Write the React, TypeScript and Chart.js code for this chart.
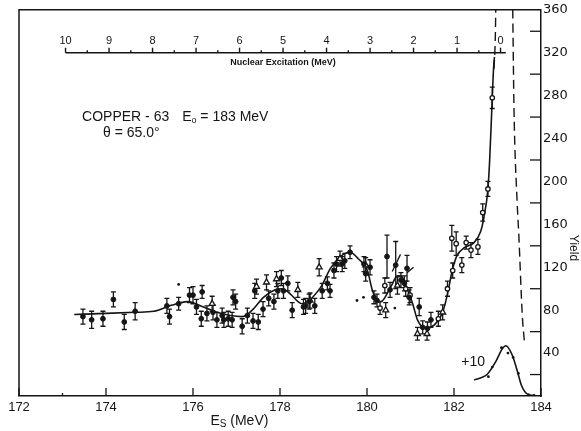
import React, { useEffect, useRef } from "react";
import { Chart, registerables } from "chart.js";

Chart.register(...registerables);

// ---------- axis labels ----------
const xTickLabels = [172, 174, 176, 178, 180, 182, 184];
const yTickLabels = [40, 80, 120, 160, 200, 240, 280, 320, 360];
const excitationLabels = [10, 9, 8, 7, 6, 5, 4, 3, 2, 1, 0];
const EXCITATION_ZERO = 183.07; // E_s at zero nuclear excitation
const EXCITATION_AXIS_Y = 320; // yield level where the excitation scale sits

// ---------- data: filled circles ----------
const filledE = [173.47, 173.67, 173.93, 174.17, 174.42, 174.67, 175.4, 175.46, 175.67, 175.92, 176.0, 176.08, 176.19, 176.21, 176.32, 176.46, 176.55, 176.67, 176.71, 176.81, 176.9, 176.92, 176.98, 177.13, 177.25, 177.38, 177.42, 177.5, 177.61, 177.74, 177.86, 177.95, 178.03, 178.08, 178.18, 178.28, 178.54, 178.59, 178.67, 178.8, 178.97, 179.09, 179.15, 179.24, 179.3, 179.43, 179.49, 179.61, 179.93, 179.97, 180.07, 180.16, 180.23, 180.46, 180.53, 180.66, 180.78, 180.86, 180.92, 180.97, 181.2, 181.28, 181.39, 181.47];
const filledY = [74, 71, 72, 90, 69, 79, 84, 74, 86, 94, 94, 83, 72, 97, 77, 78, 71, 75, 71, 72, 71, 92, 88, 65, 75, 70, 98, 69, 81, 91, 88, 98, 110, 98, 105, 80, 83, 84, 88, 84, 98, 105, 98, 117, 123, 123, 126, 134, 123, 114, 120, 92, 89, 130, 99, 122, 108, 105, 119, 92, 83, 64, 63, 71];
const filledErr = [7, 8, 7, 7, 7, 8, 7, 7, 6, 7, 8, 7, 7, 6, 7, 7, 7, 7, 7, 7, 7, 7, 7, 7, 7, 7, 7, 7, 7, 7, 7, 7, 7, 7, 7, 7, 7, 7, 7, 7, 7, 6, 6, 7, 7, 7, 7, 6, 7, 7, 7, 6, 6, 20, 7, 22, 7, 7, 12, 7, 8, 6, 6, 7];

// ---------- data: open triangles ----------
const triE = [176.44, 177.46, 177.69, 177.92, 178.41, 178.69, 178.9, 179.38, 179.97, 180.43, 180.7, 181.16, 181.38, 181.74];
const triY = [86, 102, 106, 109, 99, 89, 120, 128, 122, 80, 103, 58, 58, 78];
const triErr = [7, 7, 7, 7, 7, 7, 8, 7, 7, 7, 8, 6, 6, 7];

// ---------- data: open circles ----------
const openE = [180.3, 180.41, 180.89, 180.99, 181.64, 181.85, 181.95, 181.97, 182.05, 182.18, 182.28, 182.39, 182.55, 182.66, 182.78, 182.88];
const openY = [82, 103, 100, 94, 72, 100, 147, 117, 142, 122, 143, 136, 139, 171, 193, 278];
const openErr = [6, 7, 7, 7, 7, 7, 12, 7, 11, 7, 6, 7, 7, 8, 7, 10];

// ---------- data: isolated dots without error bars ----------
const strayE = [175.67, 179.77, 179.92, 180.64];
const strayY = [104, 89, 92, 82];

// ---------- fitted curve ----------
const curveE = [173.27, 174.0, 174.67, 175.1, 175.5, 175.87, 176.24, 176.55, 176.86, 177.13, 177.36, 177.62, 177.89, 178.05, 178.24, 178.5, 178.93, 179.16, 179.39, 179.61, 179.8, 180.01, 180.12, 180.23, 180.32, 180.55, 180.7, 180.78, 180.93, 181.05, 181.16, 181.35, 181.54, 181.73, 181.85, 181.96, 182.07, 182.23, 182.46, 182.61, 182.69, 182.78, 182.82, 182.88, 182.91, 182.93];
const curveY = [76, 77, 78, 79, 84.5, 88, 83, 78, 75, 74, 80, 92, 99, 100, 95, 86, 101, 119, 130, 134, 128, 117, 99, 89, 88, 102, 112, 112, 99, 86, 71, 63, 66, 77, 95, 117, 131, 138, 143, 153, 167, 193, 220, 278, 306, 316];

// alternate fit fragments near 180.7 - 181
const altAE = [180.58, 180.77];
const altAY = [116, 132];
const altBE = [180.92, 181.07];
const altBY = [115, 120];

// ---------- elastic peak (dashed) ----------
const dashLeftE = [182.92, 182.95, 182.96];
const dashLeftY = [305, 335, 360];
const dashRightE = [183.35, 183.38, 183.45, 183.49, 183.57, 183.62];
const dashRightY = [360, 266, 182, 150, 75, 50];

// ---------- elastic peak divided by 10 ----------
const insetE = [182.46, 182.62, 182.76, 182.96, 183.11, 183.19, 183.34, 183.45, 183.55, 183.68, 183.88];
const insetY = [15, 17, 20, 32, 44, 46.8, 38, 24, 10, 2, 0.3];
const insetDotE = [182.79, 182.88, 183.09, 183.24, 183.36, 183.48, 183.72, 183.84];
const insetDotY = [18, 27, 45, 40, 36, 21, 1, 0.5];

const INK = "#151515";
const FONT = "'Liberation Sans', Arial, sans-serif";
const FONT_WIDE = "'DejaVu Sans', sans-serif";

const pts = (xs: number[], ys: number[]) => xs.map((x, i) => ({ x, y: ys[i] }));

const errorBarPlugin = {
  id: "errorBars",
  beforeDatasetsDraw(chart: any) {
    const { ctx, scales } = chart;
    const xs = scales.x;
    const ys = scales.y;
    ctx.save();
    ctx.strokeStyle = INK;
    ctx.lineWidth = 1.3;
    chart.data.datasets.forEach((ds: any) => {
      if (!ds.errs) return;
      ds.data.forEach((p: any, i: number) => {
        const e = ds.errs[i];
        const px = xs.getPixelForValue(p.x);
        const top = ys.getPixelForValue(p.y + e);
        const bot = ys.getPixelForValue(p.y - e);
        ctx.beginPath();
        ctx.moveTo(px, top);
        ctx.lineTo(px, bot);
        ctx.moveTo(px - 2.5, top);
        ctx.lineTo(px + 2.5, top);
        ctx.moveTo(px - 2.5, bot);
        ctx.lineTo(px + 2.5, bot);
        ctx.stroke();
      });
    });
    ctx.restore();
  },
};

type Run = { t: string; size: number; dy?: number; bold?: boolean };
function drawRuns(ctx: CanvasRenderingContext2D, x: number, y: number, runs: Run[]) {
  let cx = x;
  runs.forEach((r) => {
    ctx.font = `${r.bold ? "bold " : ""}${r.size}px ${FONT}`;
    ctx.fillText(r.t, cx, y + (r.dy || 0));
    cx += ctx.measureText(r.t).width;
  });
}

const decorPlugin = {
  id: "decor",
  afterDraw(chart: any) {
    const { ctx, chartArea: a, scales } = chart;
    const xs = scales.x;
    const ys = scales.y;
    ctx.save();
    ctx.strokeStyle = INK;
    ctx.fillStyle = INK;
    ctx.lineWidth = 1.5;
    // frame: top and left
    ctx.beginPath();
    ctx.moveTo(a.left, a.bottom);
    ctx.lineTo(a.left, a.top);
    ctx.lineTo(a.right, a.top);
    ctx.stroke();
    // inside ticks on x axis
    ctx.lineWidth = 1.3;
    xTickLabels.forEach((v) => {
      const px = xs.getPixelForValue(v);
      ctx.beginPath();
      ctx.moveTo(px, a.bottom);
      ctx.lineTo(px, a.bottom - 8);
      ctx.stroke();
    });
    {
      const px = xs.getPixelForValue(173);
      ctx.beginPath();
      ctx.moveTo(px, a.bottom);
      ctx.lineTo(px, a.bottom - 3);
      ctx.stroke();
    }
    // inside ticks on y axis between labels
    yTickLabels.forEach((v) => {
      const py = ys.getPixelForValue(v - 20);
      ctx.beginPath();
      ctx.moveTo(a.right, py);
      ctx.lineTo(a.right - 11, py);
      ctx.stroke();
    });

    // excitation scale
    const ey = ys.getPixelForValue(EXCITATION_AXIS_Y);
    const ex = (eps: number) => xs.getPixelForValue(EXCITATION_ZERO - eps);
    ctx.lineWidth = 1.4;
    ctx.beginPath();
    ctx.moveTo(ex(10), ey);
    ctx.lineTo(ex(-0.12), ey);
    ctx.stroke();
    ctx.textAlign = "center";
    ctx.textBaseline = "middle";
    excitationLabels.forEach((eps) => {
      const px = ex(eps);
      ctx.beginPath();
      ctx.moveTo(px, ey);
      ctx.lineTo(px, ey - 5);
      ctx.stroke();
      ctx.font = `11px ${FONT}`;
      ctx.fillText(String(eps), px, ey - 12);
      if (eps > 0) {
        const hx = ex(eps - 0.5);
        ctx.beginPath();
        ctx.moveTo(hx, ey);
        ctx.lineTo(hx, ey - 2.5);
        ctx.stroke();
      }
    });
    ctx.font = `bold 9px ${FONT}`;
    ctx.fillText("Nuclear Excitation (MeV)", ex(5), ey + 10);

    // annotations
    ctx.textAlign = "left";
    const c1x = xs.getPixelForValue(173.45);
    const c1y = ys.getPixelForValue(259.5);
    drawRuns(ctx, c1x, c1y, [{ t: "COPPER - 63", size: 14 }]);
    const c2x = xs.getPixelForValue(175.75);
    drawRuns(ctx, c2x, c1y, [
      { t: "E", size: 14 },
      { t: "o", size: 9, dy: 3 },
      { t: " = 183 MeV", size: 14 },
    ]);
    drawRuns(ctx, xs.getPixelForValue(173.93), ys.getPixelForValue(244.7), [{ t: "θ = 65.0°", size: 14 }]);
    ctx.textAlign = "center";
    ctx.font = `14px ${FONT}`;
    ctx.fillText("+10", xs.getPixelForValue(182.44), ys.getPixelForValue(32));

    // x-axis title
    ctx.textAlign = "left";
    drawRuns(ctx, xs.getPixelForValue(176.4), a.bottom + 25, [
      { t: "E", size: 14 },
      { t: "S", size: 10, dy: 3 },
      { t: " (MeV)", size: 14 },
    ]);

    // y-axis title
    ctx.save();
    ctx.translate(a.right + 32, ys.getPixelForValue(138));
    ctx.rotate(Math.PI / 2);
    ctx.textAlign = "center";
    ctx.font = `12px ${FONT}`;
    ctx.fillText("Yield", 0, 0);
    ctx.restore();

    ctx.restore();
  },
};

export default function App() {
  const ref = useRef<HTMLCanvasElement>(null);
  useEffect(() => {
    document.body.style.margin = "0";
    const canvas = ref.current;
    if (!canvas) return;
    const lineDs = (xs: number[], ys: number[], extra: any = {}) => ({
      data: pts(xs, ys),
      showLine: true,
      pointRadius: 0,
      borderColor: INK,
      borderWidth: 1.6,
      fill: false,
      cubicInterpolationMode: "monotone",
      ...extra,
    });
    const chart = new Chart(canvas, {
      type: "scatter",
      data: {
        datasets: [
          {
            label: "filled",
            data: pts(filledE, filledY),
            errs: filledErr,
            pointStyle: "circle",
            pointRadius: 2.4,
            backgroundColor: INK,
            borderColor: INK,
            borderWidth: 1,
          } as any,
          {
            label: "triangles",
            data: pts(triE, triY),
            errs: triErr,
            pointStyle: "triangle",
            pointRadius: 3.4,
            backgroundColor: "#ffffff",
            borderColor: INK,
            borderWidth: 1.3,
          } as any,
          {
            label: "open",
            data: pts(openE, openY),
            errs: openErr,
            pointStyle: "circle",
            pointRadius: 2.2,
            backgroundColor: "#ffffff",
            borderColor: INK,
            borderWidth: 1.3,
          } as any,
          {
            label: "stray",
            data: pts(strayE, strayY),
            pointRadius: 1.4,
            backgroundColor: INK,
            borderColor: INK,
            borderWidth: 0,
          },
          {
            label: "insetDots",
            data: pts(insetDotE, insetDotY),
            pointRadius: 1.4,
            backgroundColor: INK,
            borderColor: INK,
            borderWidth: 0,
          },
          lineDs(curveE, curveY, { label: "fit" }),
          lineDs(altAE, altAY, { label: "altA", borderWidth: 1.3, cubicInterpolationMode: "default" }),
          lineDs(altBE, altBY, { label: "altB", borderWidth: 1.3, cubicInterpolationMode: "default" }),
          lineDs(insetE, insetY, { label: "inset" }),
          lineDs(dashLeftE, dashLeftY, { label: "dashL", borderDash: [9, 5], borderWidth: 1.4 }),
          lineDs(dashRightE, dashRightY, { label: "dashR", borderDash: [9, 5], borderWidth: 1.4 }),
        ],
      },
      options: {
        responsive: false,
        maintainAspectRatio: false,
        devicePixelRatio: 1,
        animation: false,
        layout: { padding: { left: 19, top: 9, right: 0, bottom: 0 } },
        plugins: { legend: { display: false }, tooltip: { enabled: false } },
        scales: {
          x: {
            type: "linear",
            min: 172,
            max: 184,
            afterBuildTicks: (s: any) => {
              s.ticks = xTickLabels.map((v) => ({ value: v }));
            },
            afterFit: (s: any) => {
              s.height = 35;
            },
            ticks: {
              color: INK,
              padding: 4,
              maxRotation: 0,
              font: { family: FONT, size: 13 },
              callback: (v: any) => String(v),
            },
            grid: { display: false, drawTicks: false },
            border: { display: true, color: INK, width: 1.5 },
          },
          y: {
            type: "linear",
            position: "right",
            min: 0,
            max: 360,
            afterBuildTicks: (s: any) => {
              s.ticks = yTickLabels.map((v) => ({ value: v }));
            },
            afterFit: (s: any) => {
              s.width = 40;
            },
            ticks: {
              color: INK,
              padding: 2,
              font: { family: FONT_WIDE, size: 13 },
              callback: (v: any) => String(v),
            },
            grid: { display: false, drawTicks: false },
            border: { display: true, color: INK, width: 1.5 },
          },
        },
      } as any,
      plugins: [errorBarPlugin, decorPlugin],
    });
    return () => chart.destroy();
  }, []);
  return <canvas ref={ref} width={581} height={431} style={{ display: "block" }} />;
}
